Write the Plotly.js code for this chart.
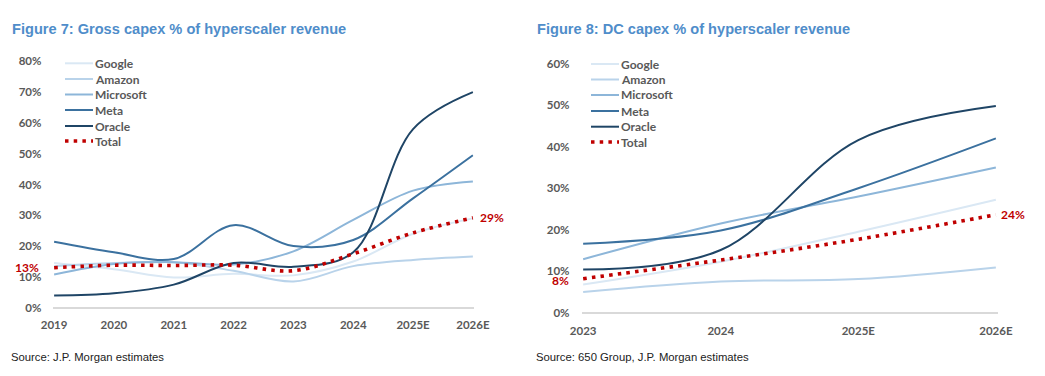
<!DOCTYPE html>
<html>
<head>
<meta charset="utf-8">
<script src="https://cdn.plot.ly/plotly-3.0.1.min.js"></script>
<style>html,body{margin:0;padding:0;background:#fff;}#chart{width:1045px;height:376px;}</style>
</head>
<body>
<div id="chart"></div>
<script>
// ---- Data: Figure 7 (Gross capex % of hyperscaler revenue) ----
const years7 = ['2019', '2020', '2021', '2022', '2023', '2024', '2025E', '2026E'];
const google7 = [14.5, 12.5, 9.8, 11.0, 10.5, 15.0, 24.0, 29.0];
const amazon7 = [13.5, 14.5, 14.8, 12.0, 8.5, 13.5, 15.5, 16.6];
const microsoft7 = [10.8, 14.2, 14.8, 14.0, 18.3, 28.5, 38.0, 41.0];
const meta7 = [21.4, 18.0, 15.8, 26.8, 20.0, 22.0, 35.5, 49.5];
const oracle7 = [4.0, 4.7, 7.5, 14.5, 13.3, 18.0, 58.0, 70.0];
const total7 = [13.0, 13.8, 13.7, 13.8, 12.0, 17.5, 24.3, 29.2];

// ---- Data: Figure 8 (DC capex % of hyperscaler revenue) ----
const years8 = ['2023', '2024', '2025E', '2026E'];
const google8 = [6.8, 12.3, 19.5, 27.2];
const amazon8 = [5.0, 7.5, 8.1, 10.9];
const microsoft8 = [12.9, 21.5, 28.0, 35.0];
const meta8 = [16.6, 19.8, 30.0, 42.0];
const oracle8 = [10.4, 15.1, 41.6, 49.8];
const total8 = [8.2, 12.7, 17.7, 23.6];

const seriesNames = ['Google', 'Amazon', 'Microsoft', 'Meta', 'Oracle', 'Total'];
const yTicks7 = [0, 10, 20, 30, 40, 50, 60, 70, 80];
const yTicks8 = [0, 10, 20, 30, 40, 50, 60];

// ---- Styles ----
const colors = ['#DAE8F4', '#B9D3EA', '#8DB6D9', '#3B719F', '#1F4566', '#C00000'];
const totalDash = '3.5px,5.2px';
const tickFont = {family: 'Lato, Arial, sans-serif', size: 11.5, color: '#595959', weight: 'bold'};
const legFont = {family: 'Lato, Arial, sans-serif', size: 12, color: '#595959', weight: 'bold'};
const titleFont = {family: '"Liberation Sans", Arial, sans-serif', size: 14.6, color: '#4F8DCA', weight: 'bold'};
const srcFont = {family: '"Liberation Sans", Arial, sans-serif', size: 11.3, color: '#222222'};
const redFont = {family: 'Lato, Arial, sans-serif', size: 12, color: '#C00000', weight: 'bold'};

const W = 1045, H = 376;
const px = v => v / W;
const py = v => 1 - v / H;

function idx(arr) { return arr.map((_, i) => i); }

function makeTraces(years, data, xa, ya) {
  return data.map((d, i) => ({
    type: 'scatter', mode: 'lines', name: seriesNames[i],
    x: idx(years), y: d, xaxis: xa, yaxis: ya, showlegend: false,
    line: {shape: 'spline', smoothing: 1, color: colors[i], width: i === 5 ? 3.6 : 2, dash: i === 5 ? totalDash : 'solid'},
    hoverinfo: 'skip'
  }));
}

const traces = [].concat(
  makeTraces(years7, [google7, amazon7, microsoft7, meta7, oracle7, total7], 'x', 'y'),
  makeTraces(years8, [google8, amazon8, microsoft8, meta8, oracle8, total8], 'x2', 'y2')
);

const annotations = [];
const shapes = [];

// Titles
annotations.push({xref: 'paper', yref: 'paper', x: px(10), y: py(29), xanchor: 'left', yanchor: 'middle',
  text: 'Figure 7: Gross capex % of hyperscaler revenue', showarrow: false, font: titleFont});
annotations.push({xref: 'paper', yref: 'paper', x: px(535), y: py(29), xanchor: 'left', yanchor: 'middle',
  text: 'Figure 8: DC capex % of hyperscaler revenue', showarrow: false, font: titleFont});
// Sources
annotations.push({xref: 'paper', yref: 'paper', x: px(9), y: py(357), xanchor: 'left', yanchor: 'middle',
  text: 'Source: J.P. Morgan estimates', showarrow: false, font: srcFont});
annotations.push({xref: 'paper', yref: 'paper', x: px(534), y: py(357), xanchor: 'left', yanchor: 'middle',
  text: 'Source: 650 Group, J.P. Morgan estimates', showarrow: false, font: srcFont});

// Manual legends
function legend(x0, x1, xt, ys) {
  seriesNames.forEach((n, i) => {
    shapes.push({type: 'line', xref: 'paper', yref: 'paper', x0: px(x0), x1: px(x1), y0: py(ys[i]), y1: py(ys[i]),
      line: {color: colors[i], width: i === 5 ? 3.6 : 2, dash: i === 5 ? totalDash : 'solid'}});
    annotations.push({xref: 'paper', yref: 'paper', x: px(xt), y: py(ys[i]), xanchor: 'left', yanchor: 'middle',
      text: n, showarrow: false, font: legFont, borderpad: 0});
  });
}
legend(65, 93, 94, [63.3, 79, 94.5, 110, 126, 141]);
legend(591, 619, 620, [64, 79.5, 95, 111, 126.7, 142]);

// End labels on Total
function endLabels(data, xa, ya, sl, sr, yshiftL) {
  const n = data.length - 1;
  annotations.push({xref: xa, yref: ya, x: 0, y: data[0], xanchor: 'right', yanchor: 'middle', xshift: sl, yshift: yshiftL,
    text: Math.round(data[0]) + '%', showarrow: false, font: redFont, borderpad: 0});
  annotations.push({xref: xa, yref: ya, x: n, y: data[n], xanchor: 'left', yanchor: 'middle', xshift: sr,
    text: Math.round(data[n]) + '%', showarrow: false, font: redFont, borderpad: 0});
}
endLabels(total7, 'x', 'y', -14, 6, 0);
endLabels(total8, 'x2', 'y2', -13, 4, -1.5);

function xaxis(years, domain) {
  return {domain: domain, range: [-0.012, years.length - 1 + 0.012], tickmode: 'array', tickvals: idx(years), ticktext: years,
    showgrid: false, zeroline: false, showline: false, ticks: '', tickfont: tickFont, ticklabelstandoff: 6, fixedrange: true};
}
function yaxis(ticks, top, domain, anchor) {
  return {domain: domain, range: [-1, top], tickmode: 'array', tickvals: ticks, ticktext: ticks.map(v => v + '%'), showgrid: false,
    zeroline: true, zerolinecolor: '#D9D9D9', zerolinewidth: 2, showline: false, ticks: '',
    tickfont: tickFont, ticklabelstandoff: 11, anchor: anchor, fixedrange: true};
}

const layout = {
  width: W, height: H,
  margin: {l: 0, r: 0, t: 0, b: 0},
  paper_bgcolor: '#ffffff', plot_bgcolor: '#ffffff',
  showlegend: false,
  xaxis: Object.assign(xaxis(years7, [px(53.4), px(473.6)]), {anchor: 'y'}),
  yaxis: yaxis(yTicks7, 80, [1 - 310.8 / H, 1 - 61.3 / H], 'x'),
  xaxis2: Object.assign(xaxis(years8, [px(581.5), px(997.5)]), {anchor: 'y2'}),
  yaxis2: yaxis(yTicks8, 60, [1 - 316.85 / H, 1 - 63.7 / H], 'x2'),
  annotations: annotations,
  shapes: shapes
};

Plotly.newPlot('chart', traces, layout, {displayModeBar: false, staticPlot: true});
</script>
</body>
</html>
